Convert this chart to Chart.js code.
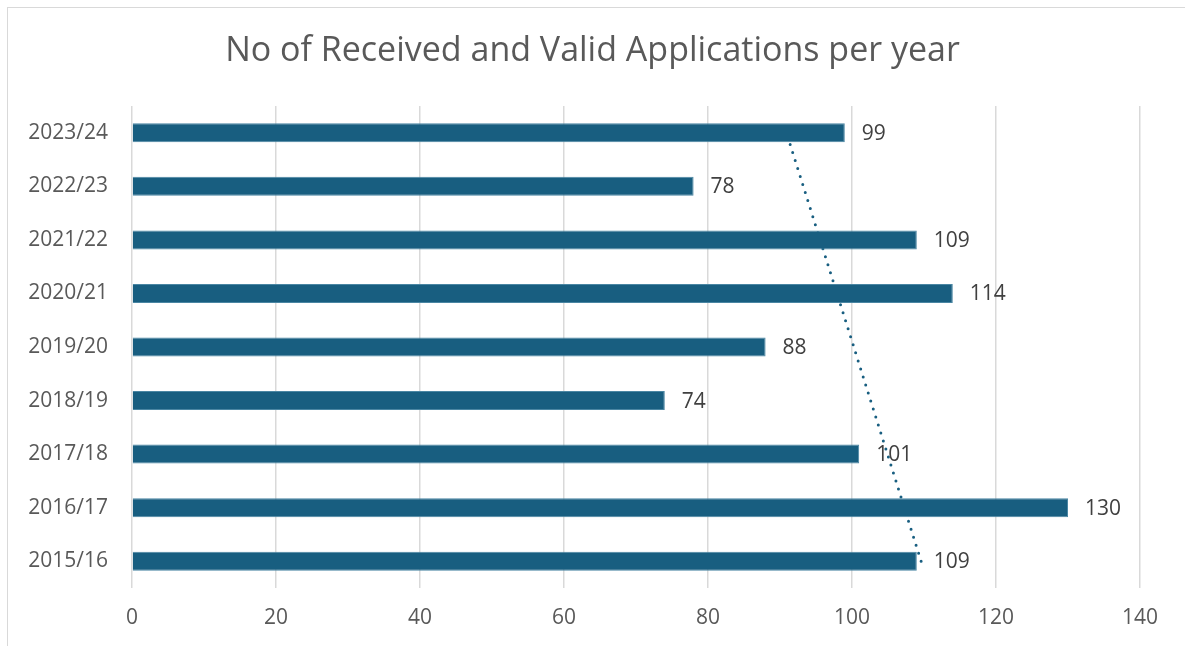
<!DOCTYPE html>
<html>
<head>
<meta charset="utf-8">
<title>No of Received and Valid Applications per year</title>
<script src="https://cdn.jsdelivr.net/npm/chart.js@4.4.1/dist/chart.umd.min.js"></script>
<style>
  html, body { margin: 0; padding: 0; background: #fff; overflow: hidden; }
  .frame {
    position: absolute; left: 7px; top: 7px; width: 1300px; height: 800px;
    border-left: 1px solid #d9d9d9; border-top: 1px solid #d9d9d9;
  }
  .wrap { position: absolute; left: 0; top: 0; width: 1185px; height: 646px; }
</style>
</head>
<body>
<div class="frame"></div>
<div class="wrap"><canvas id="chart" width="1185" height="646"></canvas></div>
<script>
// data, oldest year first
const years = ['2015/16', '2016/17', '2017/18', '2018/19', '2019/20', '2020/21', '2021/22', '2022/23', '2023/24'];
const applications = [109, 130, 101, 74, 88, 114, 109, 78, 99];
// linear trendline, value read at the first and last year
const trendEnds = [109.6, 90.9];
const xTicks = [0, 20, 40, 60, 80, 100, 120, 140];
const chartTitle = 'No of Received and Valid Applications per year';

const fontFamily = "'Open Sans', 'Liberation Sans', Arial, sans-serif";
const barColor = '#185e80';

// value labels at the end of each bar
const barLabels = {
    id: 'barLabels',
    afterDatasetsDraw(chart) {
        const ctx = chart.ctx;
        const meta = chart.getDatasetMeta(0);
        ctx.save();
        ctx.font = '21px ' + fontFamily;
        ctx.fillStyle = '#404040';
        ctx.textAlign = 'left';
        ctx.textBaseline = 'middle';
        meta.data.forEach((bar, i) => {
            ctx.fillText(applications[i], bar.x + 17, bar.y + 1);
        });
        ctx.restore();
    }
};

// title centred on the whole canvas (the built-in one centres on the padded box)
const centredTitle = {
    id: 'centredTitle',
    afterDraw(chart) {
        const ctx = chart.ctx;
        ctx.save();
        ctx.font = '34px ' + fontFamily;
        ctx.fillStyle = '#595959';
        ctx.textAlign = 'center';
        ctx.textBaseline = 'middle';
        ctx.fillText(chartTitle, chart.width / 2, 51);
        ctx.restore();
    }
};

const ctx = document.getElementById('chart').getContext('2d');
new Chart(ctx, {
    data: {
        labels: years,
        datasets: [{
            type: 'bar',
            label: 'Applications',
            data: applications,
            backgroundColor: barColor,
            borderColor: '#4a86a3',
            borderWidth: 1,
            categoryPercentage: 1,
            barPercentage: 0.355,
            order: 1
        }, {
            type: 'line',
            label: 'Linear trend',
            data: [
                { x: trendEnds[0], y: years[0] },
                { x: trendEnds[1], y: years[years.length - 1] }
            ],
            borderColor: barColor,
            borderWidth: 3,
            borderCapStyle: 'round',
            borderDash: [0, 8.4],
            pointRadius: 0,
            fill: false,
            order: 2
        }]
    },
    options: {
        indexAxis: 'y',
        responsive: false,
        animation: false,
        layout: { padding: { left: 0, right: 45, top: 106, bottom: 0 } },
        plugins: {
            legend: { display: false },
            tooltip: { enabled: false },
            title: { display: false }
        },
        scales: {
            x: {
                min: 0,
                max: 140,
                afterBuildTicks(scale) {
                    scale.ticks = xTicks.map(v => ({ value: v }));
                },
                afterFit(scale) { scale.height = 58; },
                grid: { color: '#d9d9d9', lineWidth: 1.5, drawTicks: false },
                border: { display: false },
                ticks: {
                    color: '#595959',
                    padding: 17,
                    maxRotation: 0,
                    font: { family: fontFamily, size: 21 }
                }
            },
            y: {
                reverse: true,
                grid: { display: false, drawTicks: false },
                border: { display: false },
                afterFit(scale) { scale.width = 132; },
                ticks: {
                    color: '#595959',
                    padding: 24,
                    font: { family: fontFamily, size: 21 }
                }
            }
        }
    },
    plugins: [barLabels, centredTitle]
});
</script>
</body>
</html>
